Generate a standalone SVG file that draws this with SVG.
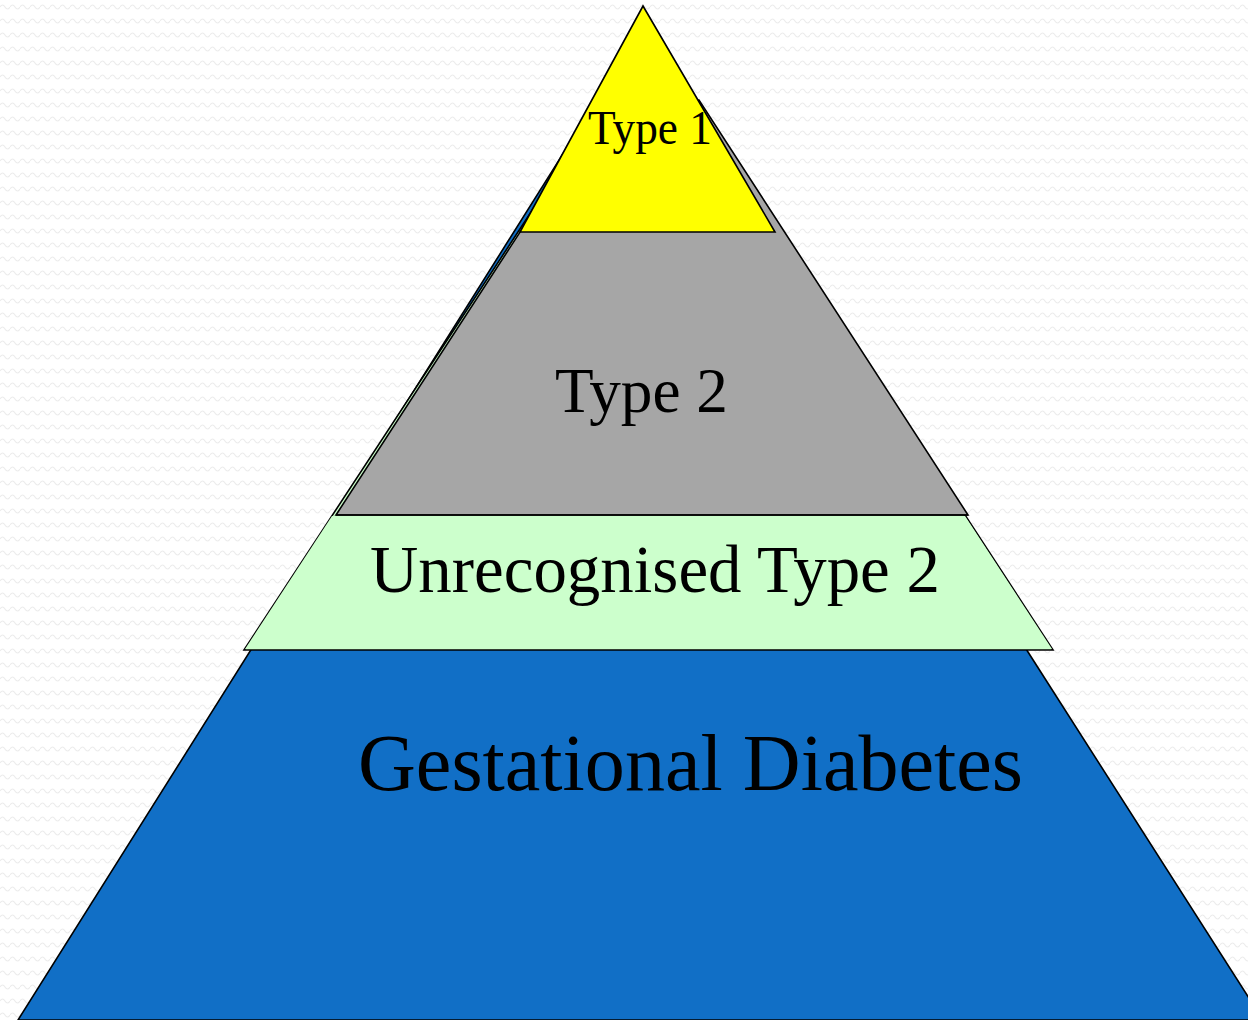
<svg xmlns="http://www.w3.org/2000/svg" width="1248" height="1020" viewBox="0 0 1248 1020">
<defs>
<pattern id="bgwave" width="10" height="14" patternUnits="userSpaceOnUse">
<path d="M0 7 Q2.5 3 5 7 T10 7" fill="none" stroke="#ececec" stroke-width="1.2"/>
</pattern>
<style>
.layer{stroke:#000;stroke-width:1.6;stroke-linejoin:miter}
.lbl{font-family:"Liberation Serif","DejaVu Serif",serif;fill:#000}
</style>
</defs>
<rect width="1248" height="1020" fill="#ffffff"/>
<rect width="1248" height="1020" fill="url(#bgwave)"/>
<g id="gestational">
<polygon class="layer" fill="#116fc6" points="600,95 680,95 1028,652 1263,1020 18,1020"/>
<text class="lbl" x="358" y="790" font-size="80" textLength="665" lengthAdjust="spacingAndGlyphs">Gestational Diabetes</text>
</g>
<g id="unrecognised">
<polygon class="layer" fill="#ccffcc" points="598,110 701,110 1053,650 244,650"/>
</g>
<g id="type2">
<polygon class="layer" fill="#a6a6a6" points="606,100 699,100 968,515 336,515"/>
<text class="lbl" x="555" y="412" font-size="64" textLength="173" lengthAdjust="spacingAndGlyphs">Type 2</text>
</g>
<g id="unrecognised-label">
<polygon fill="#ccffcc" points="332,516 965,516 1052,649 245,649"/>
<line class="layer" x1="336" y1="515" x2="968" y2="515"/>
<text class="lbl" x="370" y="592" font-size="68" textLength="570" lengthAdjust="spacingAndGlyphs">Unrecognised Type 2</text>
</g>
<g id="type1">
<polygon class="layer" fill="#ffff00" points="643,6 520,232 775,232"/>
<text class="lbl" x="588" y="144" font-size="48" textLength="124" lengthAdjust="spacingAndGlyphs">Type 1</text>
</g>
<g id="connectors"></g>
</svg>
